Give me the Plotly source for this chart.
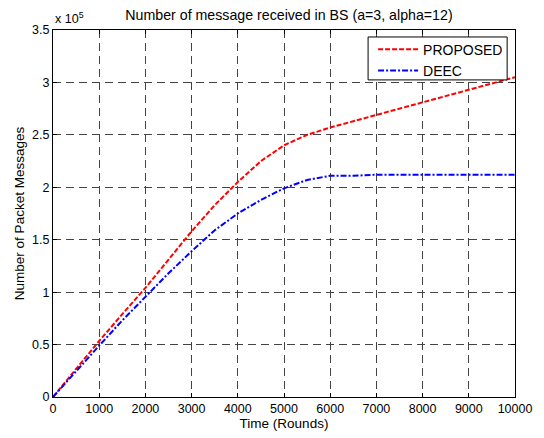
import plotly.graph_objects as go

rounds = [0, 500, 1000, 1500, 2000, 2500, 3000, 3500, 4000, 4500, 5000, 5500, 6000, 6500, 7000, 8000, 9000, 10000]
proposed = [0, 0.27, 0.535, 0.79, 1.04, 1.31, 1.58, 1.83, 2.05, 2.25, 2.40, 2.50, 2.57, 2.63, 2.69, 2.81, 2.93, 3.05]
deec = [0, 0.25, 0.49, 0.73, 0.96, 1.18, 1.39, 1.59, 1.75, 1.88, 1.99, 2.07, 2.11, 2.11, 2.12, 2.12, 2.12, 2.12]
scale = 1e5

x_ticks = list(range(0, 10001, 1000))
x_tick_text = [str(v) for v in x_ticks]
y_ticks = [0, 0.5, 1, 1.5, 2, 2.5, 3, 3.5]
y_tick_text = ["0", "0.5", "1", "1.5", "2", "2.5", "3", "3.5"]

fam = "Liberation Sans, Arial, sans-serif"
tick_font = dict(family=fam, size=12.5, color="#000")
text_font = dict(family=fam, size=13.5, color="#000")
title_font = dict(family=fam, size=14.2, color="#000")

fig = go.Figure()
fig.add_trace(go.Scatter(x=rounds, y=[v * scale for v in proposed], mode="lines", name="PROPOSED",
                         line=dict(color="#ff0000", width=2, dash="5px,2px")))
fig.add_trace(go.Scatter(x=rounds, y=[v * scale for v in deec], mode="lines", name="DEEC",
                         line=dict(color="#0000ff", width=2, dash="6px,2px,2px,2px")))

axis_common = dict(showline=True, linecolor="#000", linewidth=1, mirror="ticks", ticks="inside",
                   ticklen=4, tickcolor="#000", showgrid=True, gridcolor="#444", gridwidth=1,
                   griddash="8px,5px", zeroline=False, tickfont=tick_font)

fig.update_layout(
    width=544, height=438,
    margin=dict(l=53, r=19, t=30, b=40),
    paper_bgcolor="#fff", plot_bgcolor="#fff",
    font=text_font,
    title=dict(text="Number of message received in BS (a=3, alpha=12)", x=(53 + 525) / 2 / 544,
               xanchor="center", y=1 - 15 / 438, yanchor="middle", font=title_font),
    xaxis=dict(range=[0, 10000], tickvals=x_ticks, ticktext=x_tick_text,
               title=dict(text="Time (Rounds)", font=text_font, standoff=1), **axis_common),
    yaxis=dict(range=[0, 3.5e5], tickvals=[v * scale for v in y_ticks], ticktext=y_tick_text,
               title=dict(text="Number of Packet Messages", font=text_font, standoff=4), **axis_common),
    legend=dict(x=0.985, y=0.99, xanchor="right", yanchor="top", bgcolor="rgba(0,0,0,0)",
                borderwidth=0, font=dict(family=fam, size=14, color="#000"),
                tracegroupgap=0, itemwidth=40),
    showlegend=True,
)
# legend frame
fig.add_shape(type="rect", xref="paper", yref="paper", x0=0.682, x1=0.983, y0=0.864, y1=0.981,
              line=dict(color="#000", width=1), fillcolor="#fff", layer="above")
fig.add_annotation(text="x 10<sup>5</sup>", xref="paper", yref="paper", x=0, y=1, xanchor="left",
                   yanchor="bottom", yshift=2, showarrow=False, font=tick_font)

fig.write_html("out.html")
